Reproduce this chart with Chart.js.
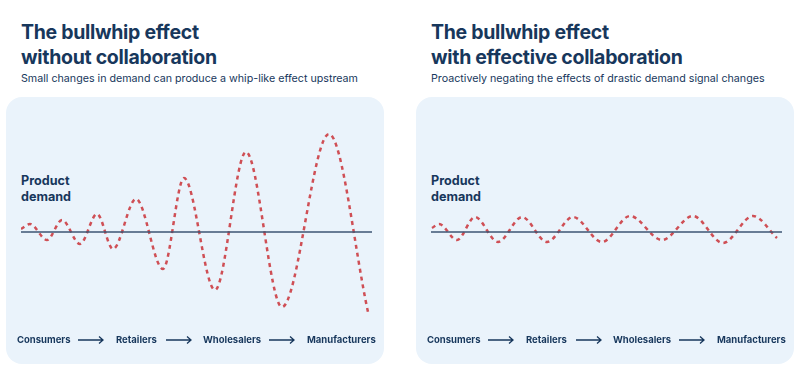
<!DOCTYPE html>
<html>
<head>
<meta charset="utf-8">
<script src="https://cdn.jsdelivr.net/npm/chart.js@4"></script>
<style>
  body { margin: 0; width: 800px; height: 380px; background: #fff; position: relative; overflow: hidden;
         font-family: Inter, "Noto Sans", sans-serif; color: #17375c; }
  .box { position: absolute; top: 97px; width: 378px; height: 267px; background: #eaf3fb; border-radius: 16px; }
  .title { position: absolute; top: 20px; font-size: 19.5px; line-height: 25px; font-weight: 700; letter-spacing: -0.3px; }
  .sub { position: absolute; top: 72px; font-size: 10.7px; line-height: 14px; font-weight: 400; white-space: nowrap; }
  .ylab { position: absolute; top: 173px; font-size: 12.6px; line-height: 16px; font-weight: 700; }
  .step { position: absolute; top: 333px; font-size: 9.5px; line-height: 14px; font-weight: 700; white-space: nowrap; }
  .arrow { position: absolute; top: 335px; width: 26px; height: 10px; }
  canvas { position: absolute; top: 0; }
</style>
</head>
<body>
<div class="box" style="left:6px"></div>
<div class="box" style="left:416px"></div>

<div class="title" style="left:21px">The bullwhip effect<br>without collaboration</div>
<div class="sub" style="left:21px">Small changes in demand can produce a whip-like effect upstream</div>
<div class="title" style="left:431px">The bullwhip effect<br>with effective collaboration</div>
<div class="sub" style="left:431px">Proactively negating the effects of drastic demand signal changes</div>

<div class="ylab" style="left:21px">Product<br>demand</div>
<div class="ylab" style="left:431px">Product<br>demand</div>

<canvas id="left" width="400" height="380" style="left:0;width:400px;height:380px"></canvas>
<canvas id="right" width="390" height="380" style="left:410px;width:390px;height:380px"></canvas>

<div id="steps"></div>

<script>
// supply chain stages shown under each panel
const stages = ['Consumers', 'Retailers', 'Wholesalers', 'Manufacturers'];

// demand signal without collaboration (x = position along the chain, y = deviation from baseline)
const leftX = [0, 9, 26, 41, 59, 76, 92, 115, 142, 163, 194, 225, 261, 308, 347];
const leftY = [3, 8, -8, 12, -12, 18, -17, 33, -37, 54, -58, 80, -75, 98, -80];

// demand signal with effective collaboration
const rightX = [1, 8, 26, 44, 67, 91, 116, 142, 171, 199, 231, 262, 292, 322, 346];
const rightY = [4, 8, -8, 15, -10, 15, -10, 15, -10, 16, -8, 16, -11, 16, -6];

const axisRange = [0, 351];

// stage labels + arrows (same layout for both panels)
const stepLeft = [17, 116, 203, 307];
const arrowLeft = [78, 166, 269];
const stepsDiv = document.getElementById('steps');
[0, 410].forEach(function(off) {
    stages.forEach(function(s, i) {
        const el = document.createElement('div');
        el.className = 'step';
        el.style.left = (stepLeft[i] + off) + 'px';
        el.textContent = s;
        stepsDiv.appendChild(el);
        if (i < arrowLeft.length) {
            const a = document.createElementNS('http://www.w3.org/2000/svg', 'svg');
            a.setAttribute('class', 'arrow');
            a.setAttribute('viewBox', '0 0 26 10');
            a.style.left = (arrowLeft[i] + off) + 'px';
            a.innerHTML = '<path d="M0 5H25M21 1.5L25 5L21 8.5" fill="none" stroke="#17375c" stroke-width="1.3"/>';
            stepsDiv.appendChild(a);
        }
    });
});

function makeChart(id, xs, ys, padRight) {
    const pts = xs.map(function(x, i) { return { x: x, y: ys[i] }; });
    new Chart(document.getElementById(id), {
        type: 'line',
        data: {
            datasets: [{
                data: [{ x: axisRange[0], y: 0 }, { x: axisRange[1], y: 0 }],
                borderColor: '#3d5573',
                borderWidth: 1.5,
                pointRadius: 0
            }, {
                data: pts,
                borderColor: '#cf4f55',
                borderWidth: 2.5,
                borderDash: [4, 4],
                cubicInterpolationMode: 'monotone',
                pointRadius: 0
            }]
        },
        options: {
            responsive: false,
            animation: false,
            layout: { padding: { left: 21, right: padRight, top: 132, bottom: 48 } },
            plugins: { legend: { display: false }, tooltip: { enabled: false } },
            scales: {
                x: { type: 'linear', display: false, min: axisRange[0], max: axisRange[1] },
                y: { display: false, min: -100, max: 100 }
            }
        }
    });
}

makeChart('left', leftX, leftY, 28);
makeChart('right', rightX, rightY, 18);
</script>
</body>
</html>
